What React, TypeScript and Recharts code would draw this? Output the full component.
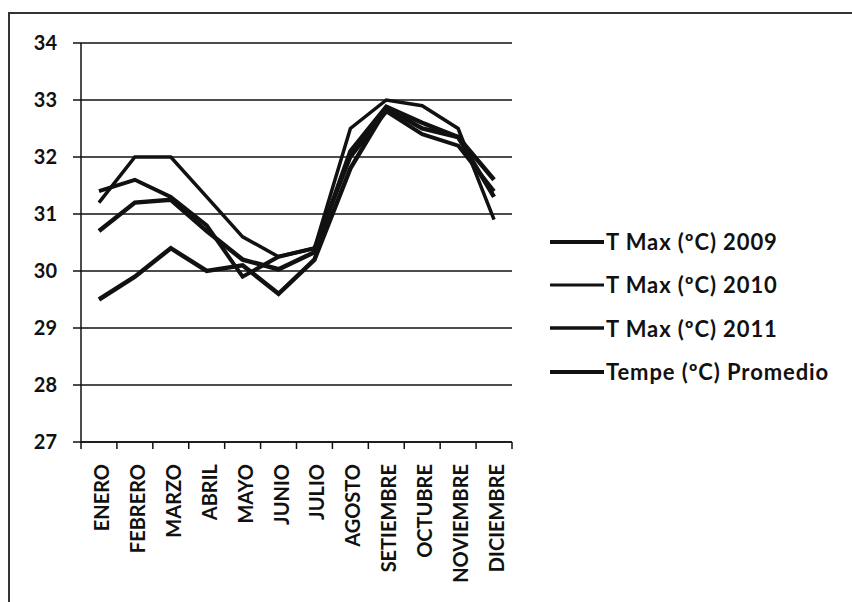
import React from "react";
import {
  LineChart,
  Line,
  XAxis,
  YAxis,
  CartesianGrid,
  Legend,
} from "recharts";

// months on the category axis
const months = [
  "ENERO",
  "FEBRERO",
  "MARZO",
  "ABRIL",
  "MAYO",
  "JUNIO",
  "JULIO",
  "AGOSTO",
  "SETIEMBRE",
  "OCTUBRE",
  "NOVIEMBRE",
  "DICIEMBRE",
];

// values (ºC)
const tmax2009 = [29.5, 29.9, 30.4, 30.0, 30.1, 29.6, 30.2, 31.8, 32.85, 32.5, 32.35, 31.6];
const tmax2010 = [31.2, 32.0, 32.0, 31.3, 30.6, 30.25, 30.4, 32.5, 33.0, 32.9, 32.5, 30.9];
const tmax2011 = [31.4, 31.6, 31.3, 30.8, 29.9, 30.25, 30.4, 32.0, 32.8, 32.4, 32.2, 31.4];
const promedio = [30.7, 31.2, 31.25, 30.7, 30.2, 30.03, 30.33, 32.1, 32.88, 32.6, 32.35, 31.3];

const yTicks = [27, 28, 29, 30, 31, 32, 33, 34];

const seriesNames = [
  "T Max (ºC) 2009",
  "T Max (ºC) 2010",
  "T Max (ºC) 2011",
  "Tempe (ºC) Promedio",
];

const data = months.map((m, i) => ({
  month: m,
  t2009: tmax2009[i],
  t2010: tmax2010[i],
  t2011: tmax2011[i],
  prom: promedio[i],
}));

const FONT = "Lato, 'Open Sans', sans-serif";
const INK = "#111";

// plot box
const PLOT_LEFT = 81;
const PLOT_RIGHT = 512;
const BAND = (PLOT_RIGHT - PLOT_LEFT) / months.length;

const MonthTick = (props: any) => {
  const { x, y, payload, index } = props;
  const ty = y + 22;
  return (
    <g>
      <line x1={x + BAND / 2} y1={y} x2={x + BAND / 2} y2={y + 7} stroke={INK} strokeWidth={1.5} />
      {index === 0 && (
        <line x1={x - BAND / 2} y1={y} x2={x - BAND / 2} y2={y + 7} stroke={INK} strokeWidth={1.5} />
      )}
      <text
        x={x + 2}
        y={ty}
        transform={`rotate(-90, ${x + 2}, ${ty})`}
        textAnchor="end"
        dominantBaseline="central"
        fontFamily={FONT}
        fontSize={20}
        fontWeight={700}
        fill={INK}
      >
        {payload.value}
      </text>
    </g>
  );
};

const widths = [4.5, 3.5, 4, 4.5];

const LegendBox = () => (
  <div style={{ fontFamily: FONT, fontSize: 22, fontWeight: 700, letterSpacing: 0.9, color: INK }}>
    {seriesNames.map((name, i) => (
      <div key={name} style={{ display: "flex", alignItems: "center", height: 43.3 }}>
        <svg width={57} height={10} style={{ display: "block" }}>
          <line x1={1} y1={5} x2={55} y2={5} stroke={INK} strokeWidth={widths[i] - 0.5} />
        </svg>
        <span style={{ whiteSpace: "nowrap" }}>{name}</span>
      </div>
    ))}
  </div>
);

export default function App() {
  return (
    <div
      style={{
        position: "absolute",
        left: 0,
        top: 0,
        width: 852,
        height: 602,
        background: "#fff",
        overflow: "hidden",
      }}
    >
      <div
        style={{
          position: "absolute",
          left: 8,
          top: 12,
          width: 860,
          height: 620,
          borderLeft: "2px solid #333",
          borderTop: "2px solid #333",
        }}
      />
      <LineChart
        width={852}
        height={602}
        data={data}
        margin={{ top: 43, right: 852 - PLOT_RIGHT, left: 21, bottom: 32 }}
      >
        <CartesianGrid vertical={false} stroke={INK} strokeWidth={1.5} />
        <XAxis
          dataKey="month"
          interval={0}
          height={128}
          padding={{ left: BAND / 2, right: BAND / 2 }}
          tickLine={false}
          tickSize={0}
          tickMargin={0}
          axisLine={{ stroke: INK, strokeWidth: 1.5 }}
          tick={<MonthTick />}
        />
        <YAxis
          width={60}
          domain={[27, 34]}
          ticks={yTicks}
          interval={0}
          tickSize={8}
          tickMargin={16}
          tickLine={{ stroke: INK, strokeWidth: 1.5 }}
          axisLine={{ stroke: INK, strokeWidth: 1.5 }}
          tick={{ fontFamily: FONT, fontSize: 20, fontWeight: 700, fill: INK }}
        />
        <Legend
          layout="vertical"
          align="center"
          verticalAlign="middle"
          content={<LegendBox />}
          wrapperStyle={{ left: 549, top: 220, width: 300, height: 180 }}
        />
        <Line dataKey="t2009" name={seriesNames[0]} type="linear" stroke={INK} strokeWidth={widths[0]} dot={false} isAnimationActive={false} />
        <Line dataKey="t2010" name={seriesNames[1]} type="linear" stroke={INK} strokeWidth={widths[1]} dot={false} isAnimationActive={false} />
        <Line dataKey="t2011" name={seriesNames[2]} type="linear" stroke={INK} strokeWidth={widths[2]} dot={false} isAnimationActive={false} />
        <Line dataKey="prom" name={seriesNames[3]} type="linear" stroke={INK} strokeWidth={widths[3]} dot={false} isAnimationActive={false} />
      </LineChart>
    </div>
  );
}
